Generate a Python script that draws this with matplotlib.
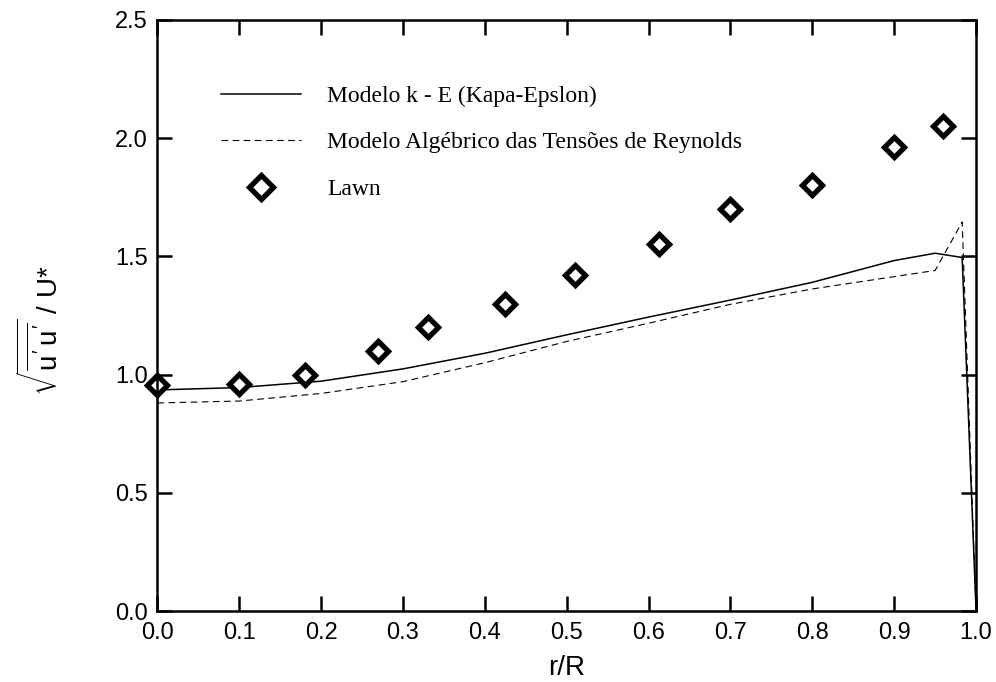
import numpy as np
import matplotlib
matplotlib.use("Agg")
from matplotlib import pyplot as plt

# r/R positions and values
r_model = [0.0, 0.1, 0.2, 0.3, 0.4, 0.5, 0.6, 0.7, 0.8, 0.9, 0.95, 0.983, 1.0]
ke_model = [0.935, 0.945, 0.972, 1.024, 1.09, 1.168, 1.243, 1.315, 1.39, 1.482, 1.513, 1.495, 0.0]
asm_model = [0.88, 0.888, 0.92, 0.97, 1.05, 1.14, 1.217, 1.297, 1.362, 1.414, 1.44, 1.645, 0.0]

r_lawn = [0.0, 0.1, 0.18, 0.27, 0.33, 0.425, 0.51, 0.613, 0.70, 0.80, 0.90, 0.96]
u_lawn = [0.955, 0.962, 1.0, 1.1, 1.2, 1.3, 1.42, 1.55, 1.70, 1.80, 1.96, 2.05]

x_ticks = np.arange(0, 1.01, 0.1)
y_ticks = np.arange(0, 2.51, 0.5)

plt.rcParams['font.family'] = 'Liberation Sans'
plt.rcParams['mathtext.fontset'] = 'custom'
plt.rcParams['mathtext.rm'] = 'Liberation Sans'
plt.rcParams['mathtext.it'] = 'Liberation Sans'

fig = plt.figure(figsize=(9.96, 6.82), dpi=100)
ax = fig.add_axes([0.158, 0.104, 0.822, 0.867])

ax.plot(r_model, ke_model, color='black', lw=1.1,
        label='Modelo k - E (Kapa-Epslon)')
ax.plot(r_model, asm_model, color='black', lw=0.8, dashes=(6, 4),
        label='Modelo Algébrico das Tensões de Reynolds')
ax.plot(r_lawn, u_lawn, ls='none', marker='D', ms=10, mfc='white',
        mec='black', mew=3.8, label='Lawn', clip_on=False)

ax.set_xlim(0, 1.0)
ax.set_ylim(0, 2.5)
ax.set_xticks(x_ticks)
ax.set_yticks(y_ticks)
ax.set_xticklabels(['%.1f' % v for v in x_ticks])
ax.set_yticklabels(['%.1f' % v for v in y_ticks])
ax.tick_params(direction='in', length=11, width=1.8, labelsize=17,
               top=True, right=True)
ax.tick_params(axis='x', pad=8)
ax.tick_params(axis='y', pad=7)
for s in ax.spines.values():
    s.set_linewidth(1.8)

ax.set_xlabel('r/R', fontsize=20)
ax.xaxis.set_label_coords(0.5, -0.075)
ax.set_ylabel(r'$\sqrt{\overline{u^{\prime}\,u^{\prime}}}$ / U*', fontsize=20)
ax.yaxis.set_label_coords(-0.114, 0.475)

leg = ax.legend(loc='upper left', bbox_to_anchor=(0.052, 0.925), frameon=False,
                prop={'family': 'Liberation Serif', 'size': 17},
                handlelength=3.4, handletextpad=1.1, labelspacing=1.06,
                markerscale=1.2)

plt.savefig('out.png', dpi=100)
